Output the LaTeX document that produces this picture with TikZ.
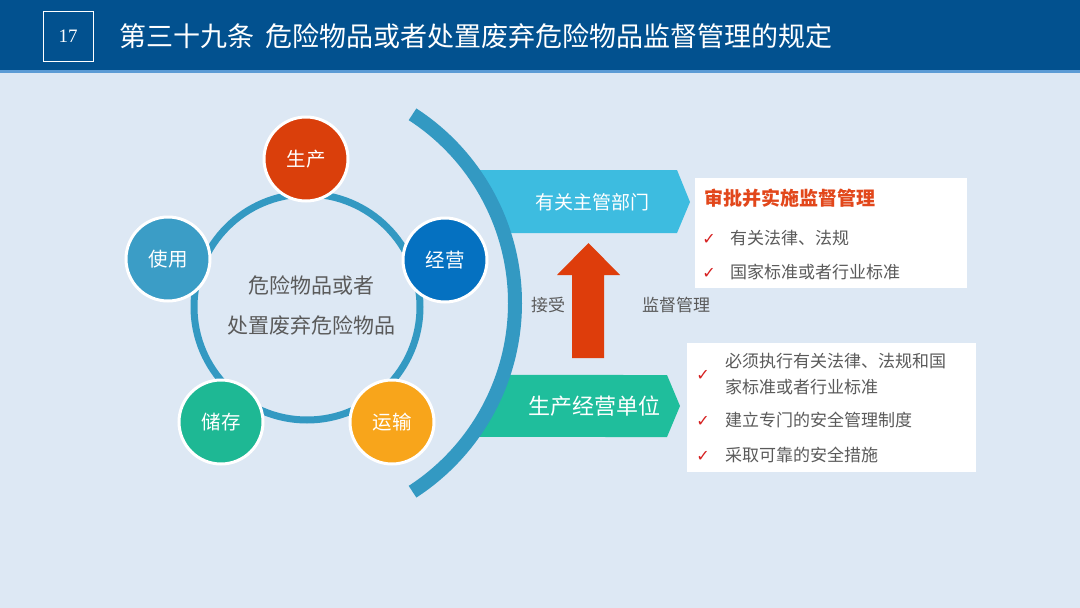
\documentclass[tikz,border=0pt]{standalone}
\usepackage{fontspec}
\setmainfont{Noto Sans CJK SC}
\newfontfamily\numfont{Liberation Serif}
\newfontfamily\symfont{DejaVu Sans}
\usetikzlibrary{calc}
\definecolor{bgc}{HTML}{DDE8F4}
\definecolor{headc}{HTML}{02518F}
\definecolor{headline}{HTML}{5B9BD5}
\definecolor{ringc}{HTML}{3399C2}
\definecolor{c1}{HTML}{DA3F0B}
\definecolor{c2}{HTML}{0571C1}
\definecolor{c3}{HTML}{F8A51B}
\definecolor{c4}{HTML}{1EB894}
\definecolor{c5}{HTML}{3B9DC6}
\definecolor{cyanband}{HTML}{3DBCE0}
\definecolor{greenband}{HTML}{1FBE9C}
\definecolor{redarrow}{HTML}{DE3D0B}
\definecolor{titlered}{HTML}{E2471B}
\definecolor{checkred}{HTML}{D61F1F}
\definecolor{graytext}{HTML}{5A5A5A}
\tikzset{
  bubble/.style={circle, draw=white, line width=3pt, minimum size=84pt, inner sep=0pt,
    text=white, font=\fontsize{19.5}{19.5}\selectfont},
  bandtext/.style={text=white, anchor=center, inner sep=0pt},
  graylbl/.style={text=graytext, font=\fontsize{17}{17}\selectfont, inner sep=0pt},
  itemtext/.style={text=graytext, font=\fontsize{17}{26}\selectfont, anchor=west, inner sep=0pt, align=left},
  checkmark/.style={text=checkred, font=\symfont\fontsize{16}{16}\selectfont, inner sep=0pt},
  whitebox/.style={fill=white, draw=none}
}
\begin{document}
\begin{tikzpicture}[x=1pt,y=-1pt]
\useasboundingbox (0,0) rectangle (1080,608);
% background
\fill[bgc] (0,0) rectangle (1080,608);
% header
\fill[headc] (0,0) rectangle (1080,70);
\fill[headline] (0,70) rectangle (1080,72.5);
\node[draw=white, line width=1pt, minimum width=50pt, minimum height=50pt, inner sep=0pt,
  text=white, font=\numfont\fontsize{19}{19}\selectfont] (num) at (68,36) {17};
\node[anchor=west, text=white, inner sep=0pt, font=\fontsize{27}{27}\selectfont] (title) at (119,36)
  {第三十九条\hspace{5pt} 危险物品或者处置废弃危险物品监督管理的规定};

% bands (left edge follows the big arc)
\coordinate (arcc) at (290,303);
\fill[cyanband] (677,170) -- (690,202) -- (677,233) -- ($(arcc)+(-18.1:225)$)
  arc[start angle=-18.1, end angle=-36.2, radius=225] -- cycle;
\node[bandtext, font=\fontsize{19}{19}\selectfont] (dept) at (592,202) {有关主管部门};
\fill[greenband] (667,375) -- (680,406) -- (667,437) -- ($(arcc)+(36.55:225)$)
  arc[start angle=36.55, end angle=18.66, radius=225] -- cycle;
\node[bandtext, font=\fontsize{22}{22}\selectfont] (unit) at (594,406) {生产经营单位};

% big arc
\draw[ringc, line width=14pt] (arcc) ++(-57:225) arc[start angle=-57, end angle=57, radius=225];

% ring
\node[circle, draw=ringc, line width=7pt, minimum size=226pt, inner sep=0pt] (ring) at (307,307) {};
\node[text=graytext, align=center, font=\fontsize{21}{40}\selectfont] (center) at (311,305)
  {危险物品或者\\处置废弃危险物品};

% bubbles
\node[bubble, fill=c1] (prod) at (306,159) {生产};
\node[bubble, fill=c2] (oper) at (445,260) {经营};
\node[bubble, fill=c3] (trans) at (392,422) {运输};
\node[bubble, fill=c4] (store) at (221,422) {储存};
\node[bubble, fill=c5] (use) at (168,259) {使用};

% red arrow
\fill[redarrow] (572,358) -- (572,275) -- (557,275) -- (588.5,243) -- (620,275) -- (604,275) -- (604,358) -- cycle;
\node[graylbl] (accept) at (548,305) {接受};
\node[graylbl] (superv) at (676,305) {监督管理};

% box 1
\fill[whitebox] (695,178) rectangle (967,288);
\node[anchor=west, inner sep=0pt, text=titlered, font=\bfseries\fontsize{19}{19}\selectfont] (b1t) at (704,198) {审批并实施监督管理};
\node[checkmark] (k1) at (709,239) {✓};
\node[itemtext] (i1) at (730,238) {有关法律、法规};
\node[checkmark] (k2) at (709,273) {✓};
\node[itemtext] (i2) at (730,272) {国家标准或者行业标准};

% box 2
\fill[whitebox] (687,343) rectangle (976,472);
\node[checkmark] (k3) at (703,375) {✓};
\node[itemtext] (i3) at (725,374) {必须执行有关法律、法规和国\\家标准或者行业标准};
\node[checkmark] (k4) at (703,421) {✓};
\node[itemtext] (i4) at (725,420) {建立专门的安全管理制度};
\node[checkmark] (k5) at (703,456) {✓};
\node[itemtext] (i5) at (725,455) {采取可靠的安全措施};
\end{tikzpicture}
\end{document}
